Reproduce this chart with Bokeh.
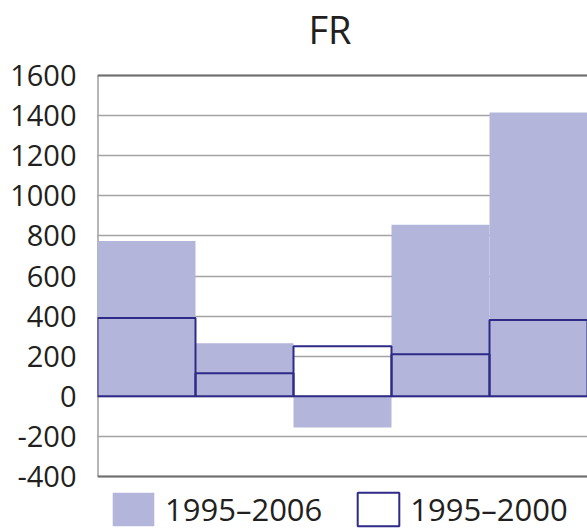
from bokeh.plotting import figure
from bokeh.models import Range1d, FixedTicker, Span, Label, Legend, LegendItem, ColumnDataSource
from bokeh.embed import file_html
from bokeh.resources import INLINE
import numpy as np

# ---- data ----
title_text = "FR"
series_names = ["1995–2006", "1995–2000"]
values_1995_2006 = [775, 265, -155, 855, 1415]
values_1995_2000 = [390, 115, 250, 210, 380]
y_ticks = [-400, -200, 0, 200, 400, 600, 800, 1000, 1200, 1400, 1600]
y_tick_labels = ["-400", "-200", "0", "200", "400", "600", "800", "1000", "1200", "1400", "1600"]

FONT = "Open Sans"
TEXT_COLOR = "#231f20"
FILL = "#b3b6da"
NAVY = "#2e2a87"
GRID = "#a3a3a3"
AXIS = "#6e6e6e"

# ---- layout (pixels) ----
W, H = 587, 530
LEFT = 97           # left edge of the value area
TOP_PX = 75         # pixel row of the top tick
BOTTOM_PX = 476     # pixel row of the bottom tick

ymin, ymax = y_ticks[0], y_ticks[-1]
px_per_unit = (BOTTOM_PX - TOP_PX) / (ymax - ymin)
view_top = ymax + TOP_PX / px_per_unit
view_bottom = ymin - (H - BOTTOM_PX) / px_per_unit

n = len(values_1995_2006)
xpos = np.arange(n) + 0.5

src = ColumnDataSource(dict(x=xpos, a=values_1995_2006, b=values_1995_2000))

p = figure(width=W, height=H, output_backend="svg", toolbar_location=None,
           x_range=Range1d(0, n), y_range=Range1d(view_bottom, view_top),
           min_border_left=LEFT, min_border_right=0, min_border_top=0, min_border_bottom=0)
p.title.visible = False
p.outline_line_color = None
p.background_fill_color = "white"
p.border_fill_color = "white"

# grid
p.xgrid.visible = False
p.ygrid.ticker = FixedTicker(ticks=y_ticks)
p.ygrid.grid_line_color = GRID
p.ygrid.grid_line_width = 1.5

# frame lines (under the bars)
p.segment(x0=[0], y0=[ymin], x1=[0], y1=[ymax], line_color=AXIS, line_width=2, level="underlay")
for loc in [ymin, ymax]:
    p.add_layout(Span(location=loc, dimension="width", line_color=AXIS, line_width=2, level="underlay"))

# axes
p.xaxis.visible = False
yax = p.yaxis[0]
yax.ticker = FixedTicker(ticks=y_ticks)
yax.major_label_overrides = {t: l for t, l in zip(y_ticks, y_tick_labels)}
yax.axis_line_color = None
yax.major_tick_line_color = None
yax.minor_tick_line_color = None
yax.major_tick_out = 0
yax.major_tick_in = 0
yax.major_label_standoff = 21
yax.major_label_text_font = FONT
yax.major_label_text_font_size = "29px"
yax.major_label_text_color = TEXT_COLOR

# bars
r_a = p.vbar(x="x", top="a", bottom=0, width=1, source=src,
             fill_color=FILL, line_color=None)
r_b = p.vbar(x="x", top="b", bottom=0, width=1, source=src,
             fill_alpha=0, line_color=NAVY, line_width=2)

# title
p.add_layout(Label(x=211, y=H - 28, x_units="screen", y_units="screen", text=title_text,
                   text_font=FONT, text_font_size="38px", text_color=TEXT_COLOR,
                   text_baseline="alphabetic"))

# legend
legend = Legend(items=[LegendItem(label=series_names[0], renderers=[r_a]),
                       LegendItem(label=series_names[1], renderers=[r_b])],
                orientation="horizontal", location=(10, 0),
                glyph_width=52, glyph_height=42, label_standoff=6, spacing=30,
                padding=0, margin=0, border_line_color=None, background_fill_alpha=0,
                label_text_font=FONT, label_text_font_size="31px", label_text_color=TEXT_COLOR)
p.add_layout(legend)

open("out.html", "w").write(file_html(p, INLINE))
